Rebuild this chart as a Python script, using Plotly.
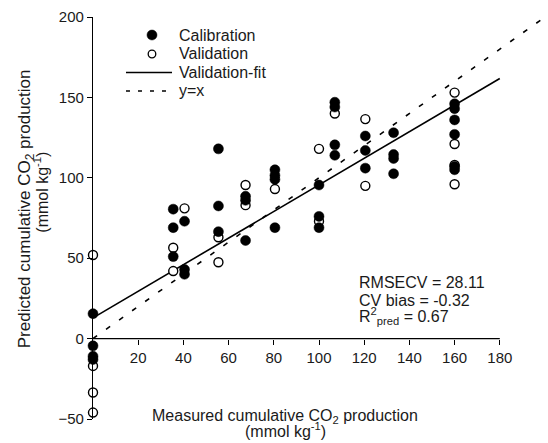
import plotly.graph_objects as go

# Calibration samples (filled markers): measured vs predicted cumulative CO2
cal_x = [0, 0, 0, 0,
         35.5, 35.5, 35.5,
         40.5, 40.5, 40.5,
         55.5, 55.5, 55.5,
         67.5, 67.5, 67.5,
         80.5, 80.5, 80.5, 80.5,
         100, 100, 100,
         107, 107, 107, 107,
         120.5, 120.5, 120.5,
         133, 133, 133, 133,
         160, 160, 160, 160, 160, 160]
cal_y = [15.5, -4.5, -11, -13,
         80.5, 69, 51,
         73, 43, 40,
         118, 82.5, 66.5,
         88.5, 86, 61,
         105, 101.5, 99, 69,
         95.5, 76, 69,
         147, 144, 120.5, 114,
         126, 117, 106,
         128, 114.5, 112, 102.5,
         146, 143, 136, 127, 107, 105]

# Validation samples (open markers)
val_x = [0, 0, 0, 0,
         35.5, 35.5,
         40.5,
         55.5, 55.5,
         67.5, 67.5,
         80.5,
         100, 100,
         107,
         120.5, 120.5,
         160, 160, 160, 160]
val_y = [52, -17, -33.5, -46,
         56.5, 42,
         81,
         63, 47.5,
         95.5, 83,
         93,
         118, 73,
         140,
         136.5, 95,
         153, 121, 108, 96]

# Validation regression line and 1:1 reference line
fit_intercept = 12.9
fit_slope = 0.827
fit_x = [0, 180]
ref_x = [0, 200]

# Statistics
stats_lines = ["RMSECV = 28.11", "CV bias = -0.32", "R<sup>2</sup><sub>pred</sub> = 0.67"]

legend_labels = ["Calibration", "Validation", "Validation-fit", "y=x"]

x_ticks = [20, 40, 60, 80, 100, 120, 140, 160, 180]
y_ticks = [-50, 0, 50, 100, 150, 200]

FONT = "Liberation Sans, Arial, sans-serif"
TXT = "#1a1a1a"
FS = 16

fig = go.Figure()

fig.add_trace(go.Scatter(
    x=fit_x, y=[fit_intercept + fit_slope * v for v in fit_x],
    mode="lines", name=legend_labels[2],
    line=dict(color="black", width=1.6),
))
fig.add_trace(go.Scatter(
    x=ref_x, y=ref_x,
    mode="lines", name=legend_labels[3],
    line=dict(color="black", width=1.6, dash="5px,11px"),
))
fig.add_trace(go.Scatter(
    x=val_x, y=val_y, mode="markers", name=legend_labels[1],
    cliponaxis=False,
    marker=dict(symbol="circle", size=9, color="white",
                line=dict(color="black", width=1.4)),
))
fig.add_trace(go.Scatter(
    x=cal_x, y=cal_y, mode="markers", name=legend_labels[0],
    cliponaxis=False,
    marker=dict(symbol="circle", size=10, color="black",
                line=dict(color="black", width=0.5)),
))

# x axis line runs along y = 0 and stops at 180
fig.add_shape(type="line", x0=0, x1=180, y0=0, y1=0, xref="x", yref="y",
              line=dict(color="black", width=1.3), layer="above")

# Compact legend in the upper-left corner (paper coordinates)
leg_sym_x = 0.1305
leg_line_x = (0.073, 0.1748)
leg_text_x = 0.1858
leg_rows = [0.9552, 0.908, 0.862, 0.816]

fig.add_shape(type="circle", xref="paper", yref="paper",
              xsizemode="pixel", ysizemode="pixel",
              xanchor=leg_sym_x, yanchor=leg_rows[0],
              x0=-5, x1=5, y0=-5, y1=5,
              fillcolor="black", line=dict(color="black", width=0.5))
fig.add_shape(type="circle", xref="paper", yref="paper",
              xsizemode="pixel", ysizemode="pixel",
              xanchor=leg_sym_x, yanchor=leg_rows[1],
              x0=-3.8, x1=3.8, y0=-3.8, y1=3.8,
              fillcolor="white", line=dict(color="black", width=1.3))
fig.add_shape(type="line", xref="paper", yref="paper",
              x0=leg_line_x[0], x1=leg_line_x[1], y0=leg_rows[2], y1=leg_rows[2],
              line=dict(color="black", width=1.6))
fig.add_shape(type="line", xref="paper", yref="paper",
              x0=leg_line_x[0], x1=leg_line_x[1], y0=leg_rows[3], y1=leg_rows[3],
              line=dict(color="black", width=1.6, dash="4px,8px"))
for label, ry in zip(legend_labels, leg_rows):
    fig.add_annotation(x=leg_text_x, y=ry, xref="paper", yref="paper",
                       text=label, showarrow=False, xanchor="left", yanchor="middle",
                       font=dict(family=FONT, size=FS, color=TXT))

# Fit statistics
for line_text, ry in zip(stats_lines, [0.339, 0.295, 0.2567]):
    fig.add_annotation(x=0.583, y=ry, xref="paper", yref="paper",
                       text=line_text, showarrow=False, xanchor="left", yanchor="middle",
                       font=dict(family=FONT, size=FS, color=TXT))

# Axis titles
fig.add_annotation(x=0.4248, y=0.005, xref="paper", yref="paper",
                   text="Measured cumulative CO<sub>2</sub> production",
                   showarrow=False, xanchor="center", yanchor="middle",
                   font=dict(family=FONT, size=FS, color=TXT))
fig.add_annotation(x=0.4248, y=-0.0274, xref="paper", yref="paper",
                   text="(mmol kg<sup>-1</sup>)",
                   showarrow=False, xanchor="center", yanchor="middle",
                   font=dict(family=FONT, size=FS, color=TXT))
fig.add_annotation(x=-0.148, y=0.522, xref="paper", yref="paper", textangle=-90,
                   text="Predicted cumulative CO<sub>2</sub> production",
                   showarrow=False, xanchor="center", yanchor="middle",
                   font=dict(family=FONT, size=17, color=TXT))
fig.add_annotation(x=-0.115, y=0.563, xref="paper", yref="paper", textangle=-90,
                   text="(mmol kg<sup>-1</sup>)",
                   showarrow=False, xanchor="center", yanchor="middle",
                   font=dict(family=FONT, size=FS, color=TXT))

fig.update_layout(
    width=548, height=443,
    margin=dict(l=93, r=3, t=17, b=24),
    paper_bgcolor="white", plot_bgcolor="white",
    font=dict(family=FONT, size=15, color=TXT),
    showlegend=False,
    xaxis=dict(range=[0, 200], showgrid=False, zeroline=False, showline=False,
               tickmode="array", tickvals=x_ticks, ticks="outside", ticklen=5,
               tickcolor="black", tickwidth=1.2,
               anchor="free", position=0.2,
               tickfont=dict(family=FONT, size=15, color=TXT)),
    yaxis=dict(range=[-50, 200], showgrid=False, zeroline=False, showline=True,
               linecolor="black", linewidth=1.3,
               tickmode="array", tickvals=y_ticks, ticks="outside", ticklen=5,
               tickcolor="black", tickwidth=1.2,
               tickfont=dict(family=FONT, size=15, color=TXT)),
)

fig.write_html("out.html")
